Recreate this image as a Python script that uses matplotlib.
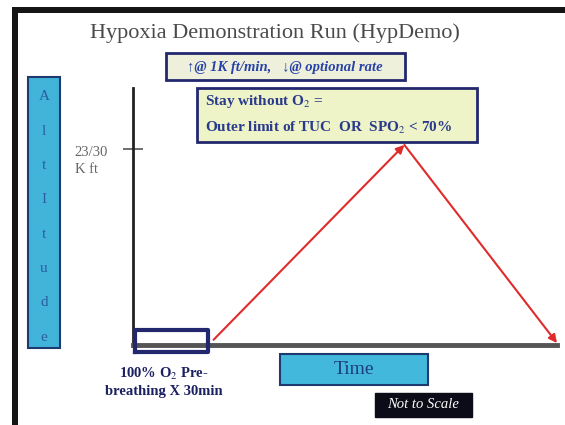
import matplotlib.pyplot as plt
from matplotlib.patches import Rectangle
from matplotlib.transforms import ScaledTranslation

# profile data (arbitrary time units, not to scale; altitude in K ft)
phase_time = [19, 64, 100]
phase_alt = [0.8, 30.6, 0.3]
prebreath_time = [0.5, 17.7]
prebreath_alt = [-1.1, 2.3]
alt_ticks = [30]
alt_tick_labels = ['23/30\nK ft']

W, H = 565, 425
serif = ['Liberation Serif', 'DejaVu Serif']
navy = '#23286e'
plt.rcParams['mathtext.fontset'] = 'stix'


def fx(x):
    return x / W


def fy(y):
    return 1 - y / H


def fig_box(fig, x0, y0, x1, y1, fc, ec, lw=1.5):
    r = Rectangle((fx(x0), fy(y1)), fx(x1 - x0), (y1 - y0) / H,
                  transform=fig.transFigure, fc=fc, ec=ec, lw=lw)
    fig.patches.append(r)


fig = plt.figure(figsize=(W / 100, H / 100), dpi=100)
fig.patch.set_facecolor('white')

# thick black frame (top and left)
fig_box(fig, 12, 7, 565, 13, '#151515', 'none', 0)
fig_box(fig, 12, 7, 18, 425, '#151515', 'none', 0)

# main axes
ax = fig.add_axes([fx(133), fy(345), fx(557 - 133), (345 - 88) / H])
ax.set_xlim(0, 100)
ax.set_ylim(0, 39.3)
ax.patch.set_alpha(0)
for s in ['top', 'right']:
    ax.spines[s].set_visible(False)
ax.spines['left'].set_color('#222222')
ax.spines['left'].set_linewidth(2)
ax.spines['bottom'].set_color('#555555')
ax.spines['bottom'].set_linewidth(3.5)
ax.set_xticks([])
ax.set_yticks(alt_ticks)
ax.set_yticklabels(alt_tick_labels, family=serif, fontsize=10.5, color='#666666',
                   ha='left', va='center_baseline', linespacing=1.45)
ax.tick_params(axis='y', direction='inout', length=14, width=1.2,
               color='#555555', pad=35)
shift = ScaledTranslation(0, -6 / 72, fig.dpi_scale_trans)
for lbl in ax.get_yticklabels():
    lbl.set_transform(lbl.get_transform() + shift)

# prebreathing loop
x0, x1 = prebreath_time
y0, y1 = prebreath_alt
ax.plot([x0, x1, x1, x0, x0], [y0, y0, y1, y1, y0], color=navy, lw=3,
        solid_joinstyle='round', clip_on=False, zorder=4)

# ascent / descent arrows
pts = list(zip(phase_time, phase_alt))
for a, b in zip(pts[:-1], pts[1:]):
    ax.annotate('', xy=b, xytext=a, annotation_clip=False,
                arrowprops=dict(arrowstyle='-|>', color='#e02b2b', lw=1.5,
                                mutation_scale=12, shrinkA=0, shrinkB=0))

# title
fig.text(fx(275), fy(33), 'Hypoxia Demonstration Run (HypDemo)', family=serif,
         fontsize=16, color='#4a4a4a', ha='center', va='center')

# rate box
fig_box(fig, 166, 53, 405, 80, '#eef0dc', navy, 2)
fig.text(fx(285), fy(67), '↑@ 1K ft/min,   ↓@ optional rate', family=serif,
         fontsize=10.5, style='italic', weight='bold', color='#2742a8',
         ha='center', va='center')

# condition box
fig_box(fig, 197, 88, 477, 142, '#eef3c8', navy, 2)
fig.text(fx(205), fy(102), 'Stay without O$_2$ =', family=serif, fontsize=11,
         weight='bold', color='#2a3a8c', ha='left', va='center')
fig.text(fx(205), fy(128), 'Outer limit of TUC  OR  SPO$_2$ < 70%', family=serif,
         fontsize=11, weight='bold', color='#2a3a8c', ha='left', va='center')

# altitude label box
fig_box(fig, 28, 77, 60, 348, '#42b4da', '#1f3a70', 1.5)
letters = list('AltItude')
for i, ch in enumerate(letters):
    fig.text(fx(44), fy(97 + i * 34.3), ch, family=serif, fontsize=11,
             color='#2a5ea0', ha='center', va='center')

# time box
fig_box(fig, 280, 354, 428, 385, '#42b8dc', '#1f3a70', 1.5)
fig.text(fx(354), fy(370), 'Time', family=serif, fontsize=14,
         color='#1d3f80', ha='center', va='center')

# prebreathing note
fig.text(fx(164), fy(382), '100% O$_2$ Pre-\nbreathing X 30min', family=serif,
         fontsize=10.5, weight='bold', color='#1a2060', ha='center',
         va='center', linespacing=1.3)

# not to scale
fig_box(fig, 375, 393, 472, 417, '#0c0c18', '#0c0c18', 1)
fig.text(fx(423), fy(405), 'Not to Scale', family=serif, fontsize=10.5,
         style='italic', color='white', ha='center', va='center')

fig.savefig('out.png', dpi=100)
